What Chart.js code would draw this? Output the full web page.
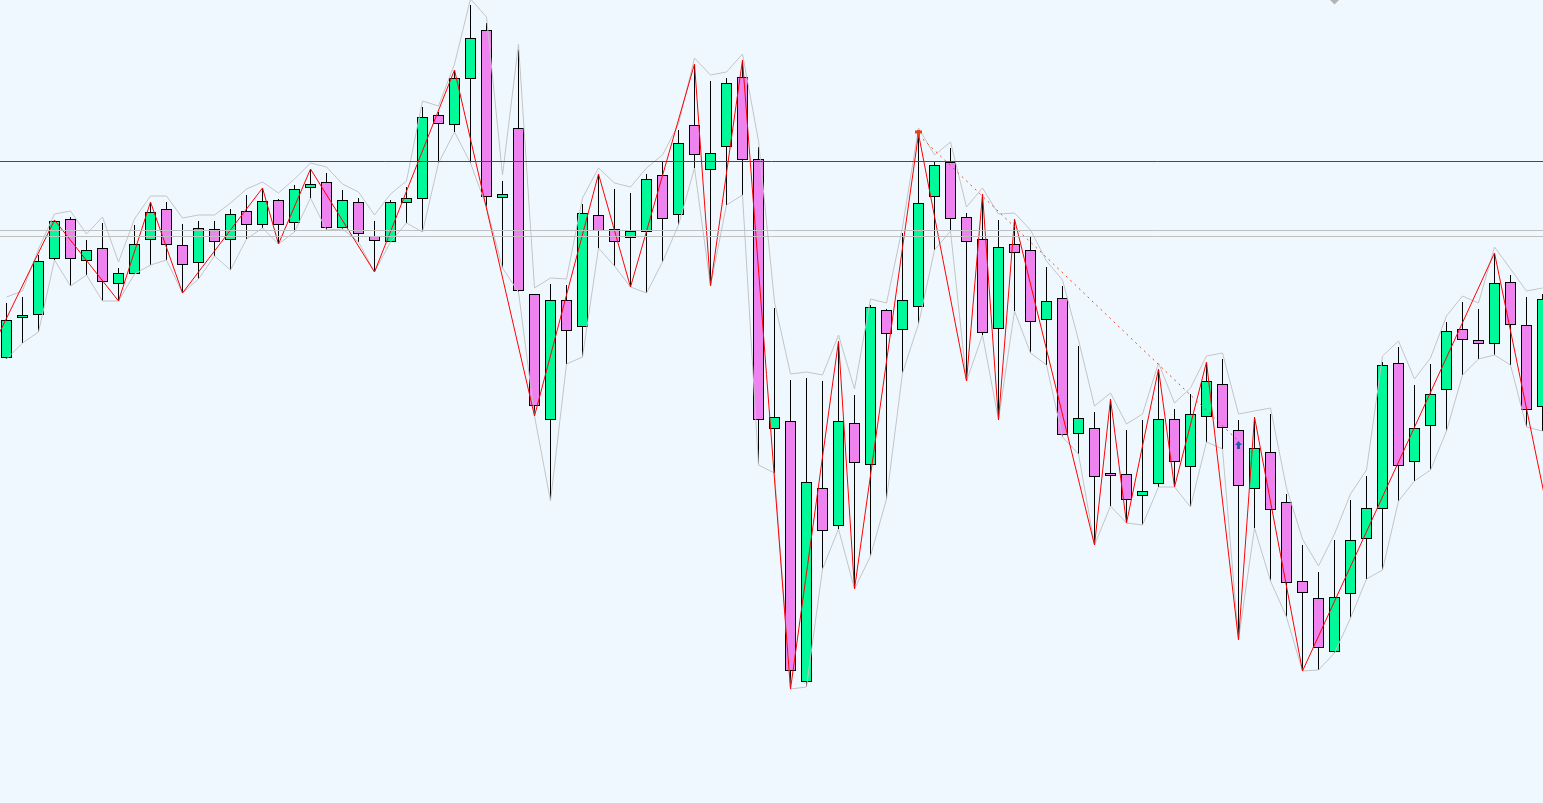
<!DOCTYPE html>
<html>
<head>
<meta charset="utf-8">
<title>Candles</title>
<script src="https://cdn.jsdelivr.net/npm/chart.js"></script>
<style>
  html, body { margin: 0; padding: 0; background: #f0f8ff; overflow: hidden; }
  canvas { display: block; }
</style>
</head>
<body>
<canvas id="chart" width="1543" height="803"></canvas>
<script>
// OHLC per bar
const opens = [442,482,485,541,581,539,552,516,526,560, 591,555,537,571,560,589,575,600,577,612,
  618,572,598,564,558,597,601,685,675,721, 770,602,672,506,380,500,473,585,571,562,
  568,625,585,675,630,653,723,641,371,379, 118,312,274,377,335,490,470,493,603,638,
  583,561,471,556,550,480,502,366,372,327, 326,304,316,381,333,383,416,370,311,348,
  298,219,202,148,206,261,291,437,338,374, 410,471,460,456,518,475,393];
const highs = [497,503,545,580,583,560,577,532,575,598, 598,576,579,579,591,605,612,601,615,631,
  627,610,602,579,600,613,693,688,730,795, 777,619,750,506,516,515,596,626,611,607,
  626,639,670,736,719,722,740,653,492,420, 422,419,459,405,495,491,567,666,639,652,
  587,606,580,581,564,533,514,454,388,401, 370,380,431,391,406,438,441,380,383,386,
  306,255,228,260,300,324,438,453,415,436, 478,498,491,547,525,503,506];
const lows = [441,457,468,540,514,525,499,499,526,535, 540,507,521,544,530,561,572,556,568,602,
  570,571,558,528,558,577,568,637,668,637, 593,532,508,384,299,436,443,552,534,513,
  507,538,575,632,514,595,605,335,327,111, 113,231,271,211,244,301,427,476,550,569,
  419,465,380,489,447,435,363,346,255,294, 277,275,313,313,293,358,351,160,272,219,
  183,129,130,147,182,221,230,299,319,330, 369,425,441,445,435,373,369];
const closes = [480,485,539,579,541,550,518,527,556,588, 555,535,572,558,586,575,599,575,611,616,
  572,600,566,559,598,602,683,676,722,762, 603,606,509,394,500,469,587,569,558,569,
  621,581,657,645,647,717,640,380,383,129, 318,269,379,337,493,466,500,597,635,581,
  558,467,553,547,478,499,365,382,323,324, 300,309,381,338,386,419,372,314,352,290,
  217,207,152,203,260,292,435,334,372,406, 469,460,456,517,475,390,501];

// grey envelope above the highs (the lower one follows the lows)
const upperBand = [503,509,551,586,589,566,583,538,581,604, 604,582,585,585,597,611,618,607,621,637,
  633,616,608,585,606,619,699,694,736,801, 783,625,756,512,522,521,602,632,617,613,
  632,645,676,742,725,728,746,659,498,426, 428,425,465,411,501,497,573,672,645,658,
  593,612,586,587,570,539,520,460,394,407, 376,386,437,397,412,444,447,386,389,392,
  312,261,234,266,306,330,444,459,421,442, 484,504,497,553,531,509,512];

// zigzag pivots
const zigzagBars = [-1,3,7,9,11,16,17,19,23,28,33,37,39,43,44,46,49,52,53,57,60,61,62,63,68,69,70,72,73,75,77,78,81,93,97];
const zigzagPrices = [449,580,499,598,507,612,556,631,528,730,384,626,513,736,514,740,111,459,211,666,419,606,380,581,255,401,277,431,313,438,160,383,129,547,236];

// dashed trend line
const trendBars = [57, 77];
const trendPrices = [665, 359];

// horizontal levels
const redLevels = [638.5];
const greyLevels = [569.5, 563.5];

// marks
const peakMark = [{ x: 57, y: 667 }];
const arrowMark = [{ x: 77, y: 355 }];
const topMark = [{ x: 83, y: 800 }];

const X_MIN = -0.40625, X_MAX = 96.03125;
const BULL = '#00fa9a', BEAR = '#ee82ee';

function arrowUp(color) {
  const c = document.createElement('canvas');
  c.width = 7; c.height = 8;
  const g = c.getContext('2d');
  g.fillStyle = color;
  g.beginPath(); g.moveTo(3.5, 0); g.lineTo(7, 4); g.lineTo(0, 4); g.closePath(); g.fill();
  g.fillRect(2, 4, 3, 4);
  return c;
}

function crossMark(color) {
  const c = document.createElement('canvas');
  c.width = 7; c.height = 7;
  const g = c.getContext('2d');
  g.fillStyle = color;
  g.fillRect(0, 1, 7, 3);
  g.fillRect(2, 0, 3, 7);
  return c;
}

const pts = (xs, ys) => xs.map((x, i) => ({ x, y: ys[i] }));
const level = v => [{ x: X_MIN, y: v }, { x: X_MAX, y: v }];

const lineDefaults = { type: 'line', pointRadius: 0, borderWidth: 1, tension: 0, fill: false };

const datasets = [
  {
    type: 'bar', order: 6, grouped: false,
    data: lows.map((l, i) => ({ x: i, y: [l, highs[i]] })),
    backgroundColor: '#000', borderWidth: 0, barThickness: 1, inflateAmount: 0
  },
  {
    type: 'bar', order: 5, grouped: false,
    data: opens.map((o, i) => ({ x: i, y: [o, closes[i]] })),
    backgroundColor: opens.map((o, i) => closes[i] >= o ? BULL : BEAR),
    borderColor: '#000', borderWidth: 1, borderSkipped: false, barThickness: 11, inflateAmount: 0
  },
  { ...lineDefaults, order: 4, data: upperBand.map((v, i) => ({ x: i, y: v })), borderColor: '#c4c4c4' },
  { ...lineDefaults, order: 4, data: lows.map((v, i) => ({ x: i, y: v })), borderColor: '#c4c4c4' },
  { ...lineDefaults, order: 3, data: pts(zigzagBars, zigzagPrices), borderColor: '#ff0000' },
  { ...lineDefaults, order: 2, data: pts(trendBars, trendPrices), borderColor: '#f04a20', borderDash: [2, 4] },
  ...greyLevels.map(v => ({ ...lineDefaults, order: 1, data: level(v), borderColor: '#c0c0c0' })),
  ...redLevels.map(v => ({ ...lineDefaults, order: 1, data: level(v), borderColor: '#c81414' })),
  { type: 'line', order: 0, showLine: false, data: peakMark, pointStyle: crossMark('#e8401c'), pointRadius: 4 },
  { type: 'line', order: 0, showLine: false, data: arrowMark, pointStyle: arrowUp('#1c62b4'), pointRadius: 4 },
  { type: 'line', order: 0, showLine: false, data: topMark, pointStyle: 'rectRot', pointRadius: 4.5,
    backgroundColor: '#b4b4b4', borderColor: '#b4b4b4', borderWidth: 0 }
];

new Chart(document.getElementById('chart').getContext('2d'), {
  type: 'bar',
  data: { datasets },
  options: {
    responsive: false,
    animation: false,
    devicePixelRatio: 1,
    layout: { padding: 0, autoPadding: false },
    plugins: { legend: { display: false }, tooltip: { enabled: false } },
    scales: {
      x: { type: 'linear', min: X_MIN, max: X_MAX, offset: false, display: false, grid: { display: false } },
      y: { type: 'linear', min: -3, max: 800, display: false, grid: { display: false } }
    }
  }
});
</script>
</body>
</html>
